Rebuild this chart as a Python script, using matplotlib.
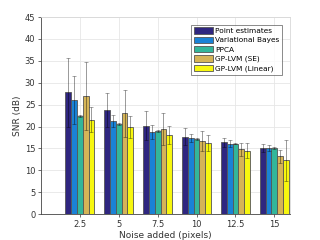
import numpy as np
import matplotlib
matplotlib.use("Agg")
import matplotlib.pyplot as plt

noise = [2.5, 5, 7.5, 10, 12.5, 15]
methods = ['Point estimates', 'Variational Bayes', 'PPCA', 'GP-LVM (SE)', 'GP-LVM (Linear)']
colors = ['#2f2680', '#1a82d6', '#33b69a', '#d5b457', '#f7f70f']

# mean SNR per method (rows) and noise level (cols)
point_est = [27.8, 23.8, 20.2, 17.7, 16.4, 15.1]
var_bayes = [26.1, 21.2, 18.8, 17.4, 16.1, 15.1]
ppca = [22.4, 20.6, 18.9, 17.2, 16.1, 15.1]
gplvm_se = [26.9, 23.0, 19.4, 16.7, 14.8, 13.2]
gplvm_lin = [21.6, 19.8, 18.0, 16.2, 14.5, 12.3]

# standard deviations
point_est_sd = [7.8, 3.9, 3.3, 2.0, 1.0, 0.9]
var_bayes_sd = [5.5, 1.4, 1.6, 0.9, 0.8, 0.7]
ppca_sd = [0.3, 0.3, 0.2, 0.2, 0.2, 0.2]
gplvm_se_sd = [7.8, 5.3, 3.6, 2.2, 1.5, 1.5]
gplvm_lin_sd = [2.9, 2.5, 2.1, 1.8, 1.8, 4.7]

means = [point_est, var_bayes, ppca, gplvm_se, gplvm_lin]
sds = [point_est_sd, var_bayes_sd, ppca_sd, gplvm_se_sd, gplvm_lin_sd]

fig = plt.figure(figsize=(3.2, 2.4), dpi=100)
ax = fig.add_axes([0.128, 0.108, 0.778, 0.821])

x = np.array(noise)
w = 0.372
for i in range(5):
    ax.bar(x + (i - 2) * w, means[i], w, color=colors[i], edgecolor='#555555',
           linewidth=0.6, label=methods[i], zorder=2)
    ax.errorbar(x + (i - 2) * w, means[i], yerr=sds[i], fmt='none',
                ecolor=(0, 0, 0, 0.4), elinewidth=0.7, capsize=1.5,
                capthick=0.6, zorder=3)

ax.set_xlim(0, 16)
ax.set_ylim(0, 45)
ax.set_xticks(noise)
ax.set_xticklabels(['2.5', '5', '7.5', '10', '12.5', '15'])
ax.set_yticks(np.arange(0, 46, 5))
ax.tick_params(labelsize=6, length=2, width=0.5, colors='#333333', pad=2)
ax.grid(True, color='#e6e6e6', linewidth=0.6, zorder=0)
ax.set_axisbelow(True)
for s in ['left', 'bottom']:
    ax.spines[s].set_color('#444444')
    ax.spines[s].set_linewidth(0.6)
for s in ['top', 'right']:
    ax.spines[s].set_color('#d8d8d8')
    ax.spines[s].set_linewidth(0.6)
ax.set_xlabel('Noise added (pixels)', fontsize=6.5, color='#333333', labelpad=2)
ax.set_ylabel('SNR (dB)', fontsize=6.5, color='#333333', labelpad=2)

leg = ax.legend(loc='upper right', bbox_to_anchor=(0.968, 0.96), fontsize=5.3,
                frameon=True, fancybox=False, handlelength=2.6, handleheight=1.0,
                handletextpad=0.3, labelspacing=0.32, borderpad=0.35,
                borderaxespad=0)
leg.get_frame().set_edgecolor('#555555')
leg.get_frame().set_linewidth(0.6)

fig.savefig('out.png', dpi=100)
